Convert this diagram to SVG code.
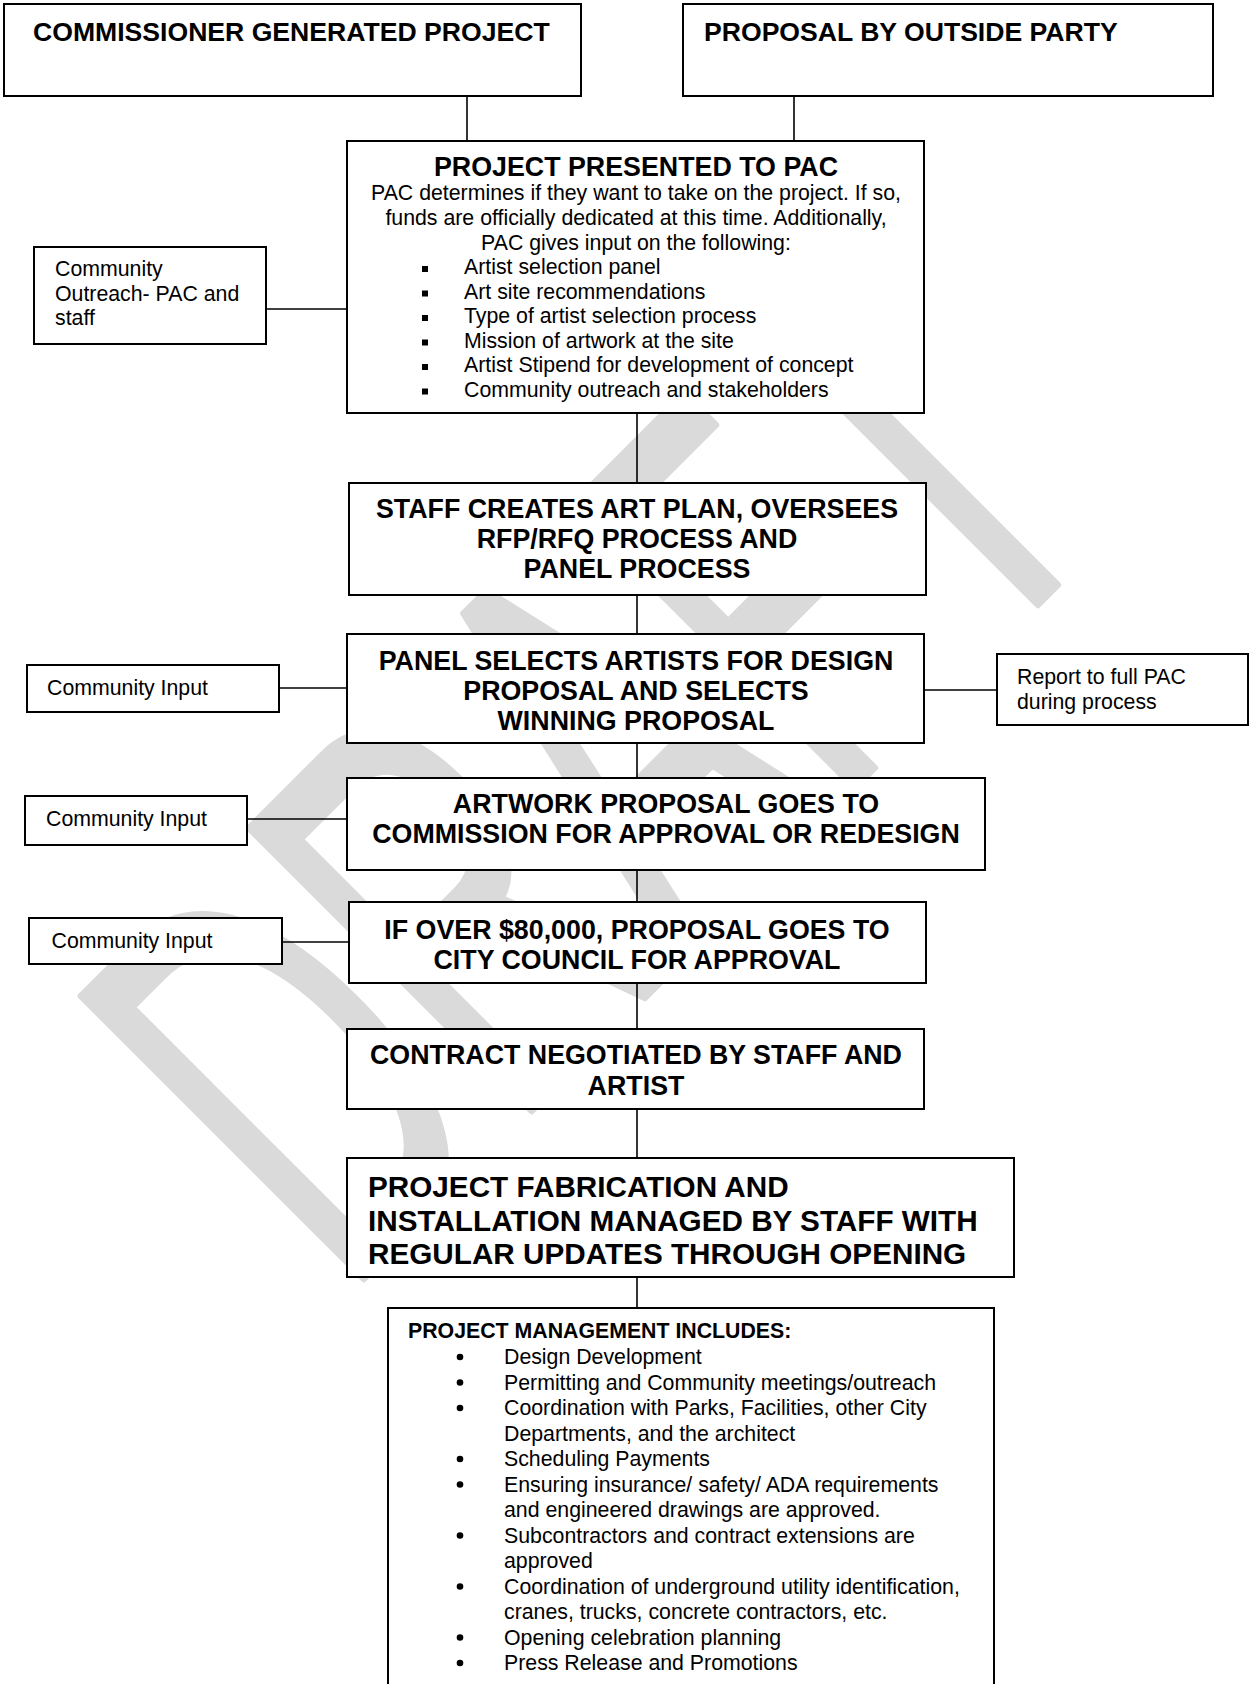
<svg xmlns="http://www.w3.org/2000/svg" width="1249" height="1684" viewBox="0 0 1249 1684">
<style>
.box{fill:#fff;stroke:#000;stroke-width:2}
.ln{stroke:#000;stroke-width:1.6;fill:none}
.t{font-family:"Liberation Sans",Arial,sans-serif;fill:#000}
.h{font-size:26.6px;font-weight:bold}
.hc{font-size:26.8px;font-weight:bold;text-anchor:middle}
.b{font-size:21.3px}
.bc{font-size:21.3px;text-anchor:middle}
.big{font-size:29.7px;font-weight:bold}
.pmh{font-size:21.3px;font-weight:bold}
.wm{font-family:"Liberation Sans",Arial,sans-serif;fill:#dadada;stroke:#dadada;stroke-width:6;stroke-linejoin:round;font-size:580px}
</style>
<rect width="1249" height="1684" fill="#fff"/>
<g id="watermark">
<text class="wm" vector-effect="non-scaling-stroke" transform="translate(362,1280) rotate(-45) scale(0.567,1)" x="-46" y="0">DRAFT</text>
</g>
<g id="connectors">
<line class="ln" x1="467" y1="96" x2="467" y2="141"/>
<line class="ln" x1="794" y1="96" x2="794" y2="141"/>
<line class="ln" x1="266" y1="309" x2="347" y2="309"/>
<line class="ln" x1="637" y1="413" x2="637" y2="483"/>
<line class="ln" x1="637" y1="595" x2="637" y2="634"/>
<line class="ln" x1="279" y1="688" x2="347" y2="688"/>
<line class="ln" x1="924" y1="690" x2="997" y2="690"/>
<line class="ln" x1="637" y1="743" x2="637" y2="778"/>
<line class="ln" x1="247" y1="819" x2="347" y2="819"/>
<line class="ln" x1="637" y1="870" x2="637" y2="902"/>
<line class="ln" x1="282" y1="942" x2="349" y2="942"/>
<line class="ln" x1="637" y1="983" x2="637" y2="1029"/>
<line class="ln" x1="637" y1="1109" x2="637" y2="1158"/>
<line class="ln" x1="637" y1="1277" x2="637" y2="1308"/>
</g>
<g id="commissioner">
<rect class="box" x="4" y="4" width="577" height="92"/>
<text class="t h" x="33" y="41">COMMISSIONER GENERATED PROJECT</text>
</g>
<g id="outside">
<rect class="box" x="683" y="4" width="530" height="92"/>
<text class="t h" x="704" y="41">PROPOSAL BY OUTSIDE PARTY</text>
</g>
<g id="pac">
<rect class="box" x="347" y="141" width="577" height="272"/>
<text class="t hc" x="636" y="176">PROJECT PRESENTED TO PAC</text>
<text class="t bc" x="636" y="200">PAC determines if they want to take on the project. If so,</text>
<text class="t bc" x="636" y="224.5">funds are officially dedicated at this time. Additionally,</text>
<text class="t bc" x="636" y="249.5">PAC gives input on the following:</text>
<g fill="#000">
<rect x="422" y="266" width="6" height="6"/>
<rect x="422" y="290.5" width="6" height="6"/>
<rect x="422" y="315" width="6" height="6"/>
<rect x="422" y="339.5" width="6" height="6"/>
<rect x="422" y="364" width="6" height="6"/>
<rect x="422" y="388.5" width="6" height="6"/>
</g>
<text class="t b" x="464" y="274">Artist selection panel</text>
<text class="t b" x="464" y="298.5">Art site recommendations</text>
<text class="t b" x="464" y="323">Type of artist selection process</text>
<text class="t b" x="464" y="347.5">Mission of artwork at the site</text>
<text class="t b" x="464" y="372">Artist Stipend for development of concept</text>
<text class="t b" x="464" y="396.5">Community outreach and stakeholders</text>
</g>
<g id="outreach">
<rect class="box" x="34" y="247" width="232" height="97"/>
<text class="t b" x="55" y="276">Community</text>
<text class="t b" x="55" y="300.5">Outreach- PAC and</text>
<text class="t b" x="55" y="325">staff</text>
</g>
<g id="staff">
<rect class="box" x="349" y="483" width="577" height="112"/>
<text class="t hc" x="637" y="517.5">STAFF CREATES ART PLAN, OVERSEES</text>
<text class="t hc" x="637" y="547.5">RFP/RFQ PROCESS AND</text>
<text class="t hc" x="637" y="577.5">PANEL PROCESS</text>
</g>
<g id="panel">
<rect class="box" x="347" y="634" width="577" height="109"/>
<text class="t hc" x="636" y="670">PANEL SELECTS ARTISTS FOR DESIGN</text>
<text class="t hc" x="636" y="700">PROPOSAL AND SELECTS</text>
<text class="t hc" x="636" y="730">WINNING PROPOSAL</text>
</g>
<g id="input1">
<rect class="box" x="27" y="665" width="252" height="47"/>
<text class="t b" x="47" y="695">Community Input</text>
</g>
<g id="report">
<rect class="box" x="997" y="654" width="251" height="71"/>
<text class="t b" x="1017" y="684">Report to full PAC</text>
<text class="t b" x="1017" y="708.5">during process</text>
</g>
<g id="artwork">
<rect class="box" x="347" y="778" width="638" height="92"/>
<text class="t hc" x="666" y="813">ARTWORK PROPOSAL GOES TO</text>
<text class="t hc" x="666" y="843">COMMISSION FOR APPROVAL OR REDESIGN</text>
</g>
<g id="input2">
<rect class="box" x="25" y="796" width="222" height="49"/>
<text class="t b" x="46" y="826">Community Input</text>
</g>
<g id="council">
<rect class="box" x="349" y="902" width="577" height="81"/>
<text class="t hc" x="637" y="938.5">IF OVER $80,000, PROPOSAL GOES TO</text>
<text class="t hc" x="637" y="968.5">CITY COUNCIL FOR APPROVAL</text>
</g>
<g id="input3">
<rect class="box" x="29" y="918" width="253" height="46"/>
<text class="t b" x="51.5" y="948">Community Input</text>
</g>
<g id="contract">
<rect class="box" x="347" y="1029" width="577" height="80"/>
<text class="t hc" x="636" y="1064">CONTRACT NEGOTIATED BY STAFF AND</text>
<text class="t hc" x="636" y="1095">ARTIST</text>
</g>
<g id="fabrication">
<rect class="box" x="347" y="1158" width="667" height="119"/>
<text class="t big" x="368" y="1196.5">PROJECT FABRICATION AND</text>
<text class="t big" x="368" y="1230.5">INSTALLATION MANAGED BY STAFF WITH</text>
<text class="t big" x="368" y="1264">REGULAR UPDATES THROUGH OPENING</text>
</g>
<g id="management">
<rect class="box" x="388" y="1308" width="606" height="400"/>
<text class="t pmh" x="408" y="1338">PROJECT MANAGEMENT INCLUDES:</text>
<g fill="#000">
<circle cx="460" cy="1357" r="3.3"/>
<circle cx="460" cy="1382.5" r="3.3"/>
<circle cx="460" cy="1408" r="3.3"/>
<circle cx="460" cy="1459" r="3.3"/>
<circle cx="460" cy="1484.5" r="3.3"/>
<circle cx="460" cy="1535.5" r="3.3"/>
<circle cx="460" cy="1586.5" r="3.3"/>
<circle cx="460" cy="1637.5" r="3.3"/>
<circle cx="460" cy="1663" r="3.3"/>
</g>
<text class="t b" x="504" y="1364">Design Development</text>
<text class="t b" x="504" y="1389.5">Permitting and Community meetings/outreach</text>
<text class="t b" x="504" y="1415">Coordination with Parks, Facilities, other City</text>
<text class="t b" x="504" y="1440.5">Departments, and the architect</text>
<text class="t b" x="504" y="1466">Scheduling Payments</text>
<text class="t b" x="504" y="1491.5">Ensuring insurance/ safety/ ADA requirements</text>
<text class="t b" x="504" y="1517">and engineered drawings are approved.</text>
<text class="t b" x="504" y="1542.5">Subcontractors and contract extensions are</text>
<text class="t b" x="504" y="1568">approved</text>
<text class="t b" x="504" y="1593.5">Coordination of underground utility identification,</text>
<text class="t b" x="504" y="1619">cranes, trucks, concrete contractors, etc.</text>
<text class="t b" x="504" y="1644.5">Opening celebration planning</text>
<text class="t b" x="504" y="1670">Press Release and Promotions</text>
</g>
</svg>
